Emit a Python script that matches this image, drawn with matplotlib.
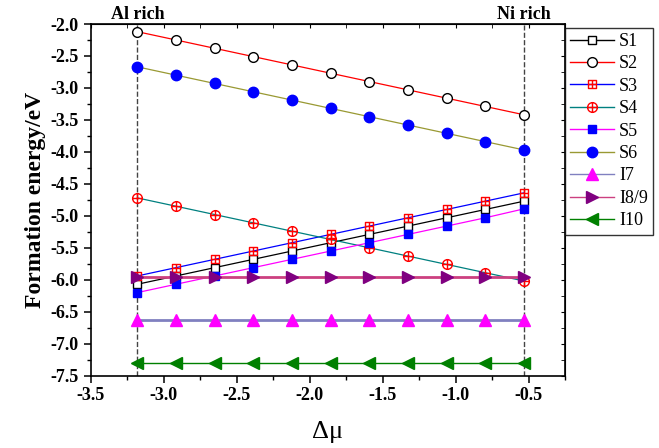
import numpy as np
import matplotlib
matplotlib.use("Agg")
import matplotlib.pyplot as plt
from matplotlib.path import Path
from matplotlib.ticker import MultipleLocator

plt.rcParams['font.family'] = ['Liberation Serif', 'DejaVu Serif']

# chemical potential (x) for the 11 sampled points
dmu = [-3.18, -2.915, -2.65, -2.385, -2.12, -1.855, -1.59, -1.325, -1.06, -0.795, -0.53]

S1 = [-6.07, -5.94, -5.81, -5.68, -5.55, -5.42, -5.29, -5.16, -5.03, -4.90, -4.77]
S2 = [-2.12, -2.25, -2.38, -2.51, -2.64, -2.77, -2.90, -3.03, -3.16, -3.29, -3.42]
S3 = [-5.94, -5.81, -5.68, -5.55, -5.42, -5.29, -5.16, -5.03, -4.90, -4.77, -4.64]
S4 = [-4.72, -4.85, -4.98, -5.11, -5.24, -5.37, -5.50, -5.63, -5.76, -5.89, -6.02]
S5 = [-6.20, -6.07, -5.94, -5.81, -5.68, -5.55, -5.42, -5.29, -5.16, -5.03, -4.89]
S6 = [-2.67, -2.80, -2.93, -3.06, -3.19, -3.32, -3.45, -3.58, -3.71, -3.84, -3.97]
I7 = [-6.63] * 11
I89 = [-5.96] * 11
I10 = [-7.30] * 11

# marker shapes: square / circle with a cross inside
cross = Path([(-1, 0), (1, 0), (0, -1), (0, 1)],
             [Path.MOVETO, Path.LINETO, Path.MOVETO, Path.LINETO])
sq = Path([(-1, -1), (1, -1), (1, 1), (-1, 1), (-1, -1)],
          [Path.MOVETO, Path.LINETO, Path.LINETO, Path.LINETO, Path.CLOSEPOLY])
sq_plus = Path.make_compound_path(sq, cross)
circ_plus = Path.make_compound_path(Path.unit_circle(), cross)

fig = plt.figure(figsize=(6.59, 4.48), dpi=100)
ax = fig.add_axes([0.1376, 0.1614, 0.7198, 0.785])

# dashed boundaries (Al rich / Ni rich limits)
ax.axvline(dmu[0], color='#444444', ls='--', lw=1.0, zorder=1)
ax.axvline(dmu[-1], color='#444444', ls='--', lw=1.0, zorder=1)

ax.plot(dmu, S1, color='black', lw=0.9, marker='s', ms=6, mfc='white', mec='black', mew=1.0, label='S1')
ax.plot(dmu, S2, color='red', lw=0.9, marker='o', ms=7, mfc='white', mec='black', mew=1.0, label='S2')
ax.plot(dmu, S3, color='blue', lw=0.9, marker=sq_plus, ms=6, mfc='none', mec='red', mew=1.0, label='S3')
ax.plot(dmu, S4, color='#008080', lw=0.9, marker=circ_plus, ms=7, mfc='none', mec='red', mew=1.0, label='S4')
ax.plot(dmu, S5, color='magenta', lw=0.9, marker='s', ms=6, mfc='blue', mec='blue', label='S5')
ax.plot(dmu, S6, color='#999933', lw=0.9, marker='o', ms=7.5, mfc='blue', mec='blue', label='S6')
ax.plot(dmu, I7, color='#8080C0', lw=2.0, marker='^', ms=8, mfc='magenta', mec='magenta', label='I7')
ax.plot(dmu, I89, color='#CC4080', lw=2.0, marker='>', ms=8, mfc='purple', mec='purple', label='I8/9')
ax.plot(dmu, I10, color='green', lw=1.0, marker='<', ms=8, mfc='green', mec='green', label='I10')

ax.set_xlim(-3.5, -0.25)
ax.set_ylim(-7.5, -2.0)
ax.xaxis.set_major_locator(MultipleLocator(0.5))
ax.xaxis.set_minor_locator(MultipleLocator(0.25))
ax.yaxis.set_major_locator(MultipleLocator(0.5))
ax.yaxis.set_minor_locator(MultipleLocator(0.25))
ax.xaxis.set_major_formatter(plt.FuncFormatter(lambda v, p: '%.1f' % v))
ax.yaxis.set_major_formatter(plt.FuncFormatter(lambda v, p: '%.1f' % v))
ax.tick_params(which='major', direction='out', length=5, width=1.1, labelsize=13)
ax.tick_params(which='minor', direction='out', length=3, width=1.0)
for lab in ax.get_xticklabels() + ax.get_yticklabels():
    lab.set_fontweight('bold')
for sp in ax.spines.values():
    sp.set_linewidth(1.2)

# inward ticks on top and right
top = ax.secondary_xaxis('top')
top.xaxis.set_major_locator(MultipleLocator(0.5))
top.xaxis.set_minor_locator(MultipleLocator(0.25))
top.tick_params(which='both', direction='in', labeltop=False, length=3)
right = ax.secondary_yaxis('right')
right.yaxis.set_major_locator(MultipleLocator(0.5))
right.yaxis.set_minor_locator(MultipleLocator(0.25))
right.tick_params(which='both', direction='in', labelright=False, length=3)

ax.set_ylabel('Formation energy/eV', fontsize=17, fontweight='bold', labelpad=3)
ax.set_xlabel('\u0394\u03bc', fontsize=19, labelpad=12)

ax.text(dmu[0], -1.98, 'Al rich', ha='center', va='bottom', fontsize=13, fontweight='bold')
ax.text(dmu[-1], -1.98, 'Ni rich', ha='center', va='bottom', fontsize=13, fontweight='bold')

leg = ax.legend(loc='upper left', bbox_to_anchor=(1.0, 0.99), borderaxespad=0,
                fontsize=13, frameon=True, fancybox=False, edgecolor='black',
                handlelength=2.4, handletextpad=0.3, labelspacing=0.3,
                borderpad=0.3)
leg.get_frame().set_linewidth(1.0)
for h in leg.legend_handles:
    h.set_linewidth(1.0)

fig.savefig('out.png', dpi=100)
